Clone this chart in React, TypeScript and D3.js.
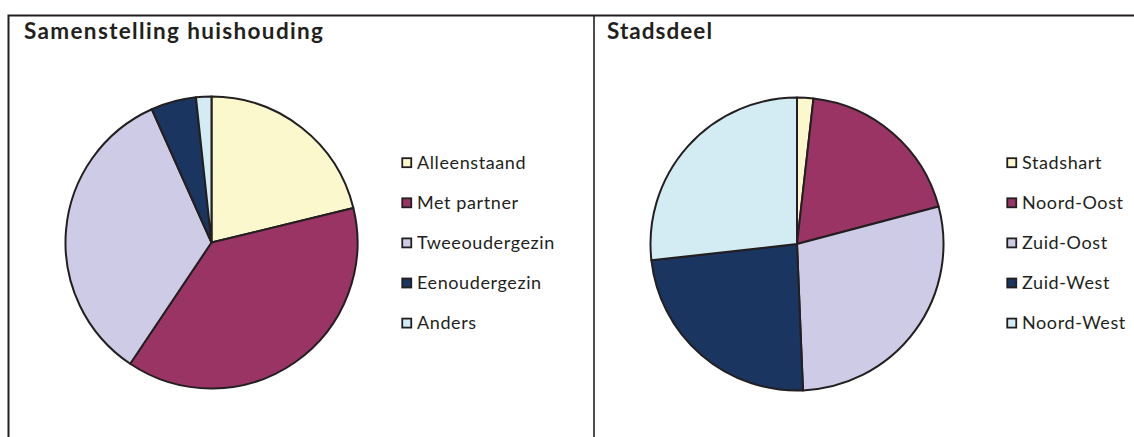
import React from "react";
import * as d3 from "d3";

const huishoudCategories = ["Alleenstaand", "Met partner", "Tweeoudergezin", "Eenoudergezin", "Anders"];
const huishoudValues = [21.2, 38.2, 33.9, 5.0, 1.7];

const stadsdeelCategories = ["Stadshart", "Noord-Oost", "Zuid-Oost", "Zuid-West", "Noord-West"];
const stadsdeelValues = [1.8, 19.1, 28.5, 23.9, 26.8];

const colorsHuishoud = ["#FCF8CE", "#9A3465", "#CDCBE6", "#1B3561", "#D3ECF4"];
const colorsStadsdeel = ["#FCF8CE", "#9A3465", "#CDCBE6", "#1B3561", "#D3ECF4"];

const W = 1134;
const H = 437;
const INK = "#231F20";
const FONT = "Lato, 'Liberation Sans', sans-serif";

type PanelProps = {
  title: string;
  titleX: number;
  titleW: number;
  categories: string[];
  values: number[];
  colors: string[];
  cx: number;
  cy: number;
  r: number;
  legendX: number;
  legendY: number;
};

function Panel(p: PanelProps) {
  const pie = d3.pie<number>().sort(null).value((d) => d)(p.values);
  const arc = d3.arc<d3.PieArcDatum<number>>().innerRadius(0).outerRadius(p.r);
  const legendY = d3.scalePoint<string>().domain(p.categories).range([p.legendY, p.legendY + 160.4]);
  return (
    <g>
      <text
        x={p.titleX}
        y={38.5}
        fontFamily={FONT}
        fontWeight={700}
        fontSize={22.5}
        fill={INK}
        textLength={p.titleW}
        lengthAdjust="spacing"
      >
        {p.title}
      </text>
      <g transform={`translate(${p.cx},${p.cy})`}>
        {pie.map((s, i) => (
          <path key={i} d={arc(s) || ""} fill={p.colors[i]} stroke={INK} strokeWidth={2} strokeLinejoin="round" />
        ))}
      </g>
      {p.categories.map((c, i) => {
        const y = legendY(c) as number;
        return (
          <g key={c}>
            <rect x={p.legendX + 0.75} y={y - 4.5} width={9} height={9} fill={p.colors[i]} stroke={INK} strokeWidth={1.8} />
            <text x={p.legendX + 15.5} y={y + 6.3} fontFamily={FONT} fontSize={18} letterSpacing={0.6} fill={INK}>
              {c}
            </text>
          </g>
        );
      })}
    </g>
  );
}

export default function App() {
  return (
    <svg width={W} height={H} style={{ position: "absolute", left: 0, top: 0, background: "#fff" }}>
      <rect x={0} y={0} width={W} height={H} fill="#fff" />
      <path d={`M8.5,${H + 5} V15.5 H${W + 5}`} fill="none" stroke={INK} strokeWidth={2} />
      <line x1={594} y1={15.5} x2={594} y2={H + 5} stroke={INK} strokeWidth={1.6} />
      <Panel
        title="Samenstelling huishouding"
        titleX={24}
        titleW={299}
        categories={huishoudCategories}
        values={huishoudValues}
        colors={colorsHuishoud}
        cx={211.5}
        cy={242.5}
        r={146}
        legendX={401.5}
        legendY={162.7}
      />
      <Panel
        title="Stadsdeel"
        titleX={607}
        titleW={105}
        categories={stadsdeelCategories}
        values={stadsdeelValues}
        colors={colorsStadsdeel}
        cx={797}
        cy={244}
        r={146.5}
        legendX={1006.5}
        legendY={162.7}
      />
    </svg>
  );
}
